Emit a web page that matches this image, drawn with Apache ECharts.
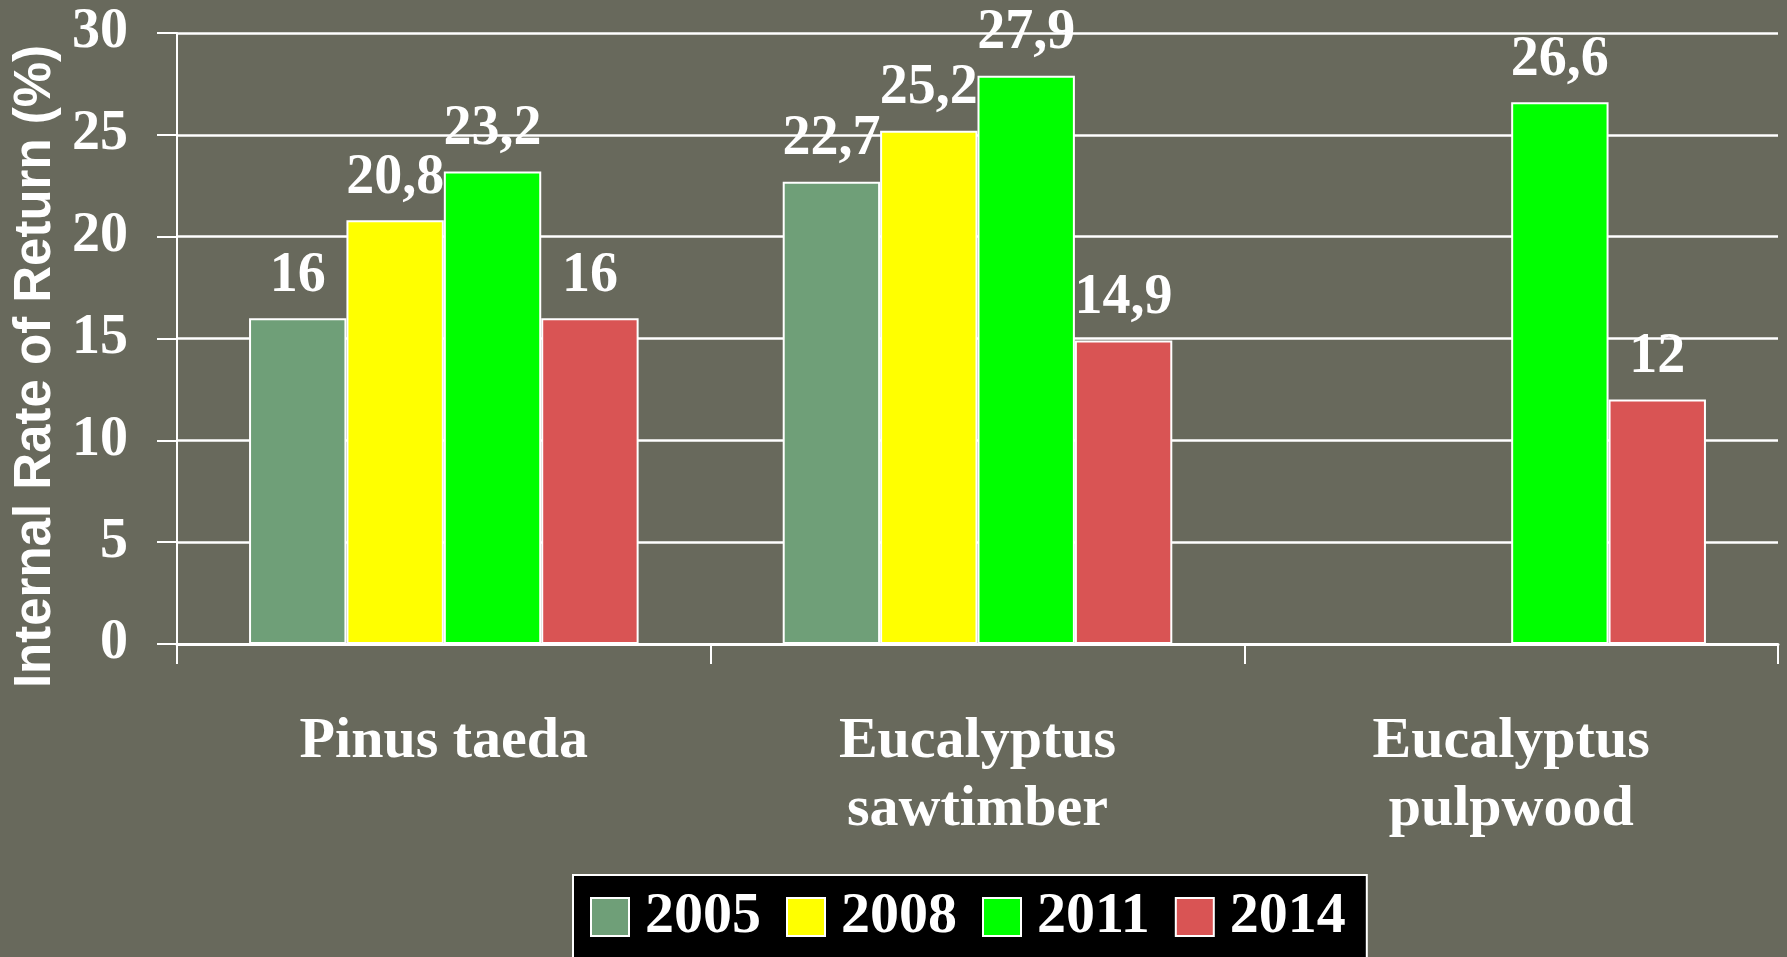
<!DOCTYPE html>
<html>
<head>
<meta charset="utf-8">
<title>Internal Rate of Return</title>
<script src="https://cdn.jsdelivr.net/npm/echarts@6/dist/echarts.min.js"></script>
<style>
  html, body { margin: 0; padding: 0; background: #68695c; }
  #chart1 { width: 1787px; height: 957px; }
</style>
</head>
<body>
<div id="chart1"></div>
<script>
// categories and series
var categories = ['Pinus taeda', 'Eucalyptus\nsawtimber', 'Eucalyptus\npulpwood'];
var years = ['2005', '2008', '2011', '2014'];
var irr2005 = [16, 22.7, null];
var irr2008 = [20.8, 25.2, null];
var irr2011 = [23.2, 27.9, 26.6];
var irr2014 = [16, 14.9, 12];
var yTicks = [0, 5, 10, 15, 20, 25, 30];
var colors = ['#6f9f78', '#ffff00', '#00ff00', '#d95454'];

var serif = '"Liberation Serif", "Times New Roman", serif';

function makeSeries(name, data, color) {
    return {
        name: name,
        type: 'bar',
        data: data,
        barGap: '0%',
        barCategoryGap: '27%',
        itemStyle: { color: color, borderColor: '#fff', borderWidth: 2 },
        label: {
            show: true,
            position: 'top',
            distance: 14,
            color: '#fff',
            fontFamily: serif,
            fontWeight: 'bold',
            fontSize: 56,
            formatter: function (p) { return String(p.value).replace('.', ','); }
        }
    };
}

var myChart = echarts.init(document.getElementById('chart1'));
var option = {
    backgroundColor: '#68695c',
    animation: false,
    grid: { left: 177, right: 9, top: 33, bottom: 313, containLabel: false },
    legend: {
        data: years,
        left: 573,
        top: 875,
        backgroundColor: '#000',
        borderColor: '#fff',
        borderWidth: 2,
        padding: [13, 21, 40, 17],
        itemWidth: 38,
        itemHeight: 38,
        itemGap: 25,
        icon: 'rect',
        itemStyle: { borderColor: '#fff', borderWidth: 2 },
        formatter: '{t|{name}}',
        textStyle: {
            color: '#fff',
            fontFamily: serif,
            fontWeight: 'bold',
            fontSize: 58,
            rich: {
                t: {
                    color: '#fff',
                    fontFamily: serif,
                    fontWeight: 'bold',
                    fontSize: 58,
                    lineHeight: 60,
                    padding: [0, 0, 0, 11]
                }
            }
        }
    },
    xAxis: {
        type: 'category',
        data: categories,
        axisLine: { lineStyle: { color: '#fff', width: 3 } },
        axisTick: { show: true, length: 20, lineStyle: { color: '#fff', width: 2 } },
        axisLabel: {
            color: '#fff',
            fontFamily: serif,
            fontWeight: 'bold',
            fontSize: 58,
            lineHeight: 68,
            margin: 64,
            interval: 0
        }
    },
    yAxis: {
        type: 'value',
        min: yTicks[0],
        max: yTicks[yTicks.length - 1],
        interval: 5,
        name: 'Internal Rate of Return (%)',
        nameLocation: 'middle',
        nameGap: 112,
        nameTextStyle: {
            color: '#fff',
            fontFamily: '"Liberation Sans", Arial, sans-serif',
            fontWeight: 'bold',
            fontSize: 51,
            padding: [0, 56, 0, 0]
        },
        axisLine: { show: true, lineStyle: { color: '#fff', width: 2 } },
        axisTick: { show: true, length: 20, lineStyle: { color: '#fff', width: 2 } },
        splitLine: { show: true, lineStyle: { color: '#fff', width: 2.5 } },
        axisLabel: {
            color: '#fff',
            fontFamily: serif,
            fontWeight: 'bold',
            fontSize: 56,
            margin: 49
        }
    },
    series: [
        makeSeries(years[0], irr2005, colors[0]),
        makeSeries(years[1], irr2008, colors[1]),
        makeSeries(years[2], irr2011, colors[2]),
        makeSeries(years[3], irr2014, colors[3])
    ]
};
myChart.setOption(option);
</script>
</body>
</html>
